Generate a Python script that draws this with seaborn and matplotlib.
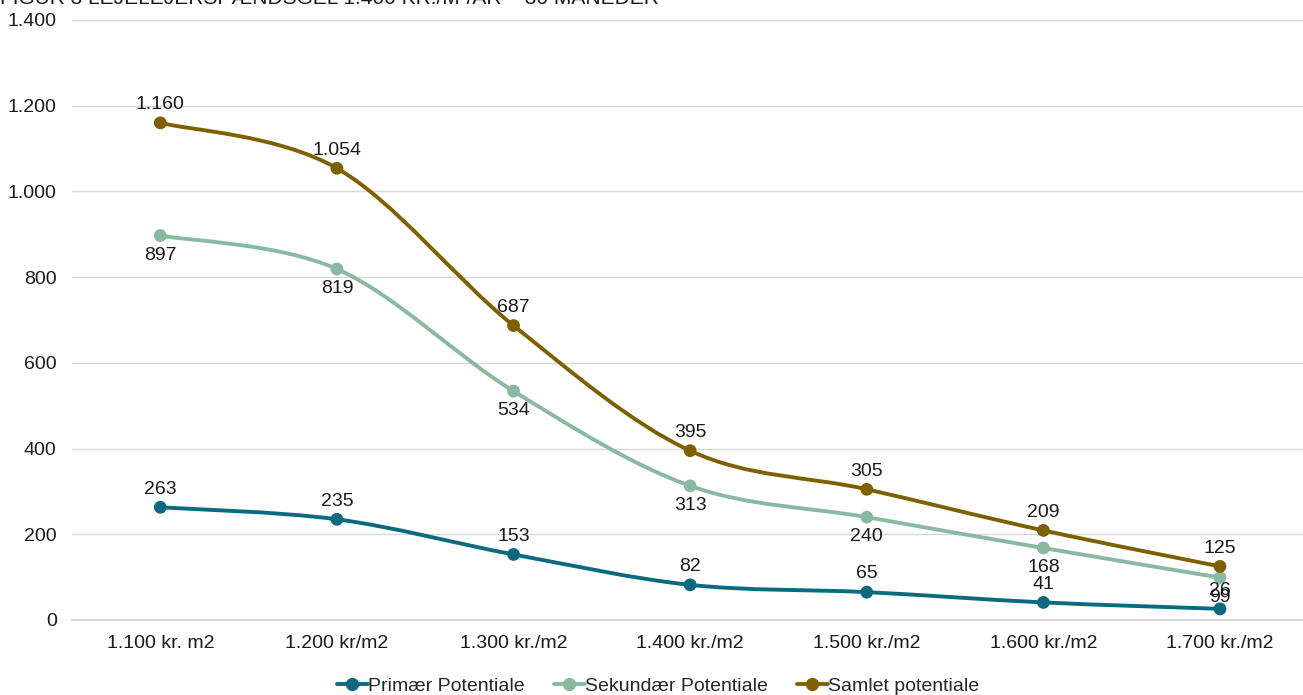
import numpy as np
import pandas as pd
import seaborn as sns
import matplotlib.pyplot as plt
from matplotlib.path import Path
from matplotlib.patches import PathPatch
from matplotlib.lines import Line2D

# --- data ---
kategorier = ["1.100 kr. m2", "1.200 kr/m2", "1.300 kr./m2", "1.400 kr./m2",
              "1.500 kr./m2", "1.600 kr./m2", "1.700 kr./m2"]
primaer = [263, 235, 153, 82, 65, 41, 26]
sekundaer = [897, 819, 534, 313, 240, 168, 99]
samlet = [1160, 1054, 687, 395, 305, 209, 125]

serier = ["Primær Potentiale", "Sekundær Potentiale", "Samlet potentiale"]
farver = ["#0b6a80", "#8ab9a2", "#7f6000"]
label_pos = ["above", "below", "above"]


def fmt(v):
    return f"{v:,.0f}".replace(",", ".")


def smooth_path(xs, ys):
    # Excel-agtig udglattet linje: Catmull-Rom som kubiske Bezier-kurver
    pts = np.column_stack([xs, ys]).astype(float)
    ext = np.vstack([pts[0], pts, pts[-1]])
    verts = [pts[0]]
    codes = [Path.MOVETO]
    for i in range(len(pts) - 1):
        p0, p1, p2, p3 = ext[i], ext[i + 1], ext[i + 2], ext[i + 3]
        verts += [p1 + (p2 - p0) / 6, p2 - (p3 - p1) / 6, p2]
        codes += [Path.CURVE4] * 3
    return Path(verts, codes)


df = pd.DataFrame({
    "pos": list(range(len(kategorier))) * 3,
    "value": primaer + sekundaer + samlet,
    "serie": np.repeat(serier, len(kategorier)),
})

sns.set_theme(style="white")
plt.rcParams["font.family"] = ["Liberation Sans", "DejaVu Sans"]

fig = plt.figure(figsize=(13.03, 6.95), dpi=100)
ax = fig.add_axes([72 / 1303, 1 - 620 / 695, 1 - 72 / 1303, 600 / 695])

for navn, farve, pos in zip(serier, farver, label_pos):
    d = df[df["serie"] == navn]
    path = smooth_path(d["pos"].values, d["value"].values)
    ax.add_patch(PathPatch(path, facecolor="none", edgecolor=farve, lw=2.8,
                           capstyle="round", joinstyle="round", zorder=3))
    for x, y in zip(d["pos"], d["value"]):
        if pos == "above":
            ax.annotate(fmt(y), (x, y), xytext=(0, 7), textcoords="offset points",
                        ha="center", va="bottom", fontsize=14, color="#1a1a1a", zorder=6)
        else:
            ax.annotate(fmt(y), (x, y), xytext=(0, -8), textcoords="offset points",
                        ha="center", va="top", fontsize=14, color="#1a1a1a", zorder=6)

sns.scatterplot(data=df, x="pos", y="value", hue="serie", palette=farver,
                s=85, edgecolor="none", legend=False, zorder=4, ax=ax)

ax.set_xlim(-0.5, 6.47)
ax.set_ylim(0, 1400)
ax.set_yticks(range(0, 1401, 200))
ax.set_yticklabels([fmt(v) for v in range(0, 1401, 200)])
ax.set_xticks(range(len(kategorier)))
ax.set_xticklabels(kategorier)
ax.tick_params(axis="both", length=0, labelsize=14, colors="#1a1a1a")
ax.tick_params(axis="y", pad=11)
ax.tick_params(axis="x", pad=11)
ax.set_xlabel("")
ax.set_ylabel("")
ax.grid(axis="y", color="#d9d9d9", lw=1)
ax.set_axisbelow(True)
for s in ["top", "right", "left"]:
    ax.spines[s].set_visible(False)
ax.spines["bottom"].set_color("#d9d9d9")
ax.spines["bottom"].set_linewidth(1.5)

# titel (skåret af i toppen i originalen)
fig.text(0.0, 1 - 4 / 695, "FIGUR 3 LEJELEJERSPÆNDSGEL 1.400 KR./M²/ÅR – 30 MÅNEDER",
         ha="left", va="baseline", fontsize=15, color="#1a1a1a")

handles = [Line2D([0], [0], color=c, lw=2.8, marker="o", markersize=8.5) for c in farver]
fig.legend(handles, serier, loc="center", bbox_to_anchor=(0.505, 0.013), ncol=3,
           frameon=False, fontsize=14, handlelength=1.6, handletextpad=0.0,
           columnspacing=1.5, borderaxespad=0)

fig.savefig("out.png", dpi=100)
